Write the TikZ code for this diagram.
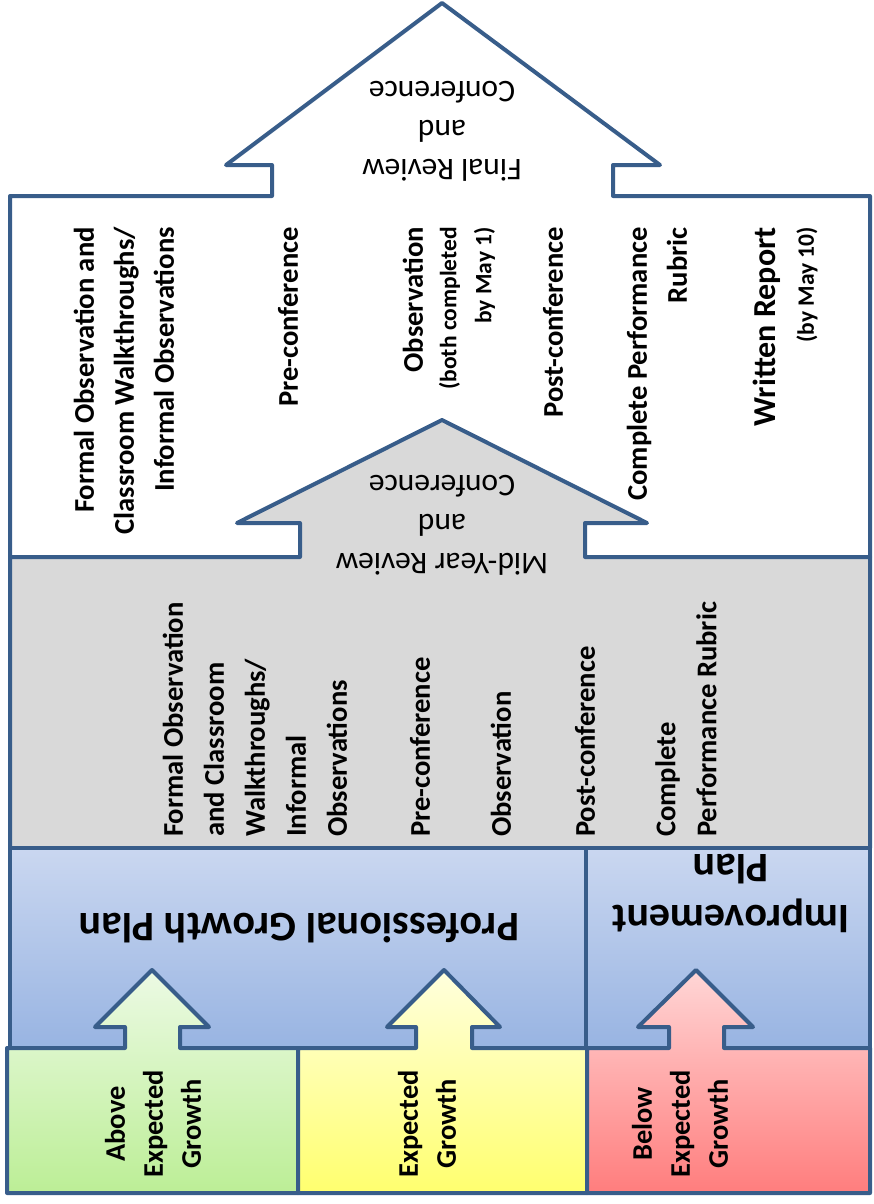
\documentclass[tikz,border=0pt]{standalone}
\usepackage{fontspec}
\setmainfont{Carlito}
\usepackage{xcolor}
\definecolor{edgeblue}{RGB}{56,93,138}
\definecolor{midgrey}{RGB}{217,217,217}
\definecolor{plantop}{RGB}{202,215,240}
\definecolor{planbot}{RGB}{152,180,226}
\definecolor{greentop}{RGB}{236,250,228}
\definecolor{greenbot}{RGB}{188,238,150}
\definecolor{yellowtop}{RGB}{255,255,222}
\definecolor{yellowbot}{RGB}{255,255,110}
\definecolor{redtop}{RGB}{255,214,214}
\definecolor{redbot}{RGB}{255,125,125}

\begin{document}
\begin{tikzpicture}[
    x=1pt, y=-1pt,
    outline/.style={draw=edgeblue, line width=4pt, line join=round},
    toplbl/.style={rotate=90, anchor=east, align=right, inner sep=0pt, font=\bfseries\fontsize{28.6}{40}\selectfont},
    notelbl/.style={toplbl, font=\bfseries\fontsize{23.5}{35}\selectfont},
    midlbl/.style={rotate=90, anchor=west, align=left, inner sep=0pt, font=\bfseries\fontsize{28.6}{41}\selectfont},
    growlbl/.style={rotate=90, align=center, inner sep=0pt, font=\bfseries\fontsize{28.4}{38}\selectfont},
    reviewlbl/.style={rotate=180, align=center, inner sep=0pt, font=\fontsize{31.5}{39}\selectfont},
    planlbl/.style={rotate=180, align=center, inner sep=0pt, font=\bfseries\fontsize{42}{51}\selectfont}
]
    \useasboundingbox (0,0) rectangle (873,1204);
    \fill[white] (0,0) rectangle (873,1204);

    % Shapes
    \path[outline, fill=white] (10,557) -- (10,196) -- (272,196) -- (272,165) -- (226,165) -- (442,3)
        -- (660,165) -- (613,165) -- (613,196) -- (870,196) -- (870,557) -- cycle;
    \path[outline, fill=midgrey] (10,848) -- (10,557) -- (300,557) -- (300,523) -- (237,523) -- (442,420)
        -- (647,523) -- (585,523) -- (585,557) -- (870,557) -- (870,848) -- cycle;
    \path[outline, top color=plantop, bottom color=planbot] (10,848) rectangle (586,1048);
    \path[outline, top color=plantop, bottom color=planbot] (586,848) rectangle (870,1048);
    \path[outline, top color=greentop, bottom color=greenbot] (7,1048) -- (125,1048) -- (125,1027) -- (95,1027)
        -- (152,970) -- (209,1027) -- (180,1027) -- (180,1048) -- (298,1048) -- (298,1193) -- (7,1193) -- cycle;
    \path[outline, top color=yellowtop, bottom color=yellowbot] (298,1048) -- (416,1048) -- (416,1027) -- (387,1027)
        -- (444,970) -- (500,1027) -- (472,1027) -- (472,1048) -- (587,1048) -- (587,1193) -- (298,1193) -- cycle;
    \path[outline, top color=redtop, bottom color=redbot] (587,1048) -- (669,1048) -- (669,1027) -- (638,1027)
        -- (696,970) -- (753,1027) -- (724,1027) -- (724,1048) -- (870,1048) -- (870,1193) -- (587,1193) -- cycle;

    % Final review column texts
    \node[toplbl] (formal) at (124,227) {Formal Observation and\\Classroom Walkthroughs/\\Informal Observations};
    \node[toplbl] (precon) at (288,227) {Pre-conference};
    \node[toplbl] (observe) at (413,227) {Observation};
    \node[notelbl] (observenote) at (467,227) {(both completed\\by May 1)};
    \node[toplbl] (postcon) at (553,227) {Post-conference};
    \node[toplbl] (rubric) at (657,227) {Complete Performance\\Rubric};
    \node[toplbl, font=\bfseries\fontsize{32}{40}\selectfont] (report) at (767,227) {Written Report};
    \node[notelbl] (reportnote) at (807,227) {(by May 10)};

    % Mid-year column texts
    \node[midlbl] (midformal) at (255,837) {Formal Observation\\and Classroom\\Walkthroughs/\\Informal\\Observations};
    \node[midlbl] (midprecon) at (420,837) {Pre-conference};
    \node[midlbl] (midobserve) at (501,837) {Observation};
    \node[midlbl] (midpostcon) at (585,837) {Post-conference};
    \node[midlbl] (midrubric) at (686,837) {Complete\\Performance Rubric};

    % Growth levels
    \node[growlbl] (above) at (153,1124) {Above\\Expected\\Growth};
    \node[growlbl] (expected) at (427,1124) {Expected\\Growth};
    \node[growlbl] (below) at (680,1124) {Below\\Expected\\Growth};

    % Upside-down labels
    \node[reviewlbl] (final) at (442,131) {Final Review\\and\\Conference};
    \node[reviewlbl] (midyear) at (442,525) {Mid-Year Review\\and\\Conference};
    \node[planlbl] (growplan) at (299,928) {Professional Growth Plan};
    \node[planlbl] (improve) at (731,893) {Improvement\\Plan};
\end{tikzpicture}
\end{document}
